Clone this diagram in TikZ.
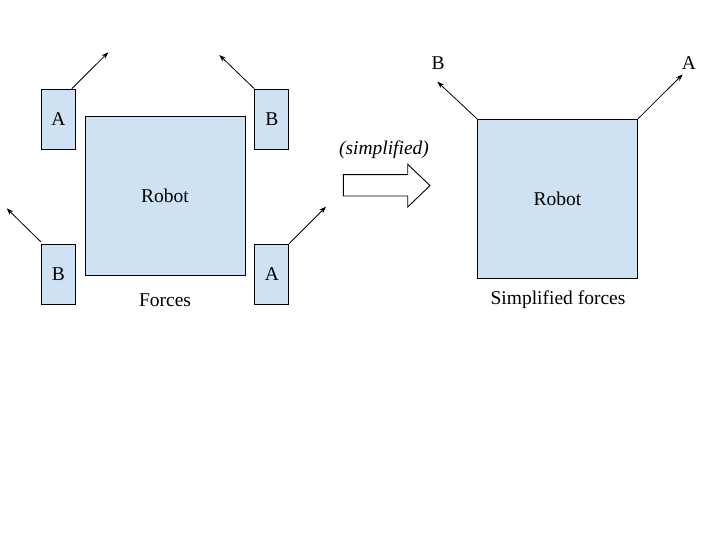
\documentclass[tikz,border=0pt]{standalone}
\usepackage{fontspec}
\setmainfont{Liberation Serif}
\usetikzlibrary{arrows.meta,calc}
\definecolor{boxblue}{HTML}{CFE2F3}
\newcommand{\dfont}{\fontsize{19.5}{22}\selectfont}
\tikzset{
  robotbox/.style={draw=black,fill=boxblue,line width=0.9pt,minimum width=160pt,minimum height=159pt,inner sep=0pt,font=\dfont},
  wheelbox/.style={draw=black,fill=boxblue,line width=0.9pt,minimum width=34pt,minimum height=60pt,inner sep=0pt,font=\dfont},
  lbl/.style={inner sep=0pt,font=\dfont},
  force/.style={line width=0.8pt,-{Stealth[length=7pt,width=5pt]}}
}
\begin{document}
\begin{tikzpicture}[x=1pt,y=-1pt]
\useasboundingbox[fill=white] (0,0) rectangle (720,540);
% left diagram
\node[robotbox] (robot1) at (165,195.7) {Robot};
\node[wheelbox] (wtl) at (58.3,119.2) {A};
\node[wheelbox] (wtr) at (271.8,119.2) {B};
\node[wheelbox] (wbl) at (58.3,274.3) {B};
\node[wheelbox] (wbr) at (271.8,274.3) {A};
\node[lbl] (forces) at (165,300.5) {Forces};
\coordinate (ftl) at (108.3,52.3);
\coordinate (ftr) at (219.3,55);
\coordinate (fbl) at (6.7,208.3);
\coordinate (fbr) at (326,206.7);
\draw[force] ($(wtl.north east)+(-4,0)$) -- (ftl);
\draw[force] (wtr.north west) -- (ftr);
\draw[force] ($(wbl.north west)+(0,-2)$) -- (fbl);
\draw[force] ($(wbr.north east)+(0,-0.3)$) -- (fbr);
% block arrow
\draw[line width=0.9pt,fill=white] (343.3,174.7) -- (407.7,174.7) -- (407.7,164.3) -- (430,185.6) -- (407.7,207) -- (407.7,196) -- (343.3,196) -- cycle;
\node[lbl,font=\dfont\itshape] (simp) at (384,150) {(simplified)};
% right diagram
\node[robotbox] (robot2) at (557.5,198.8) {Robot};
\node[lbl] (sforces) at (558,299.5) {Simplified forces};
\node[lbl] (lb) at (438,63) {B};
\node[lbl] (la) at (689,63) {A};
\coordinate (fb) at (437.3,81.7);
\coordinate (fa) at (682.7,74.3);
\draw[force] (robot2.north west) -- (fb);
\draw[force] (robot2.north east) -- (fa);
\end{tikzpicture}
\end{document}
